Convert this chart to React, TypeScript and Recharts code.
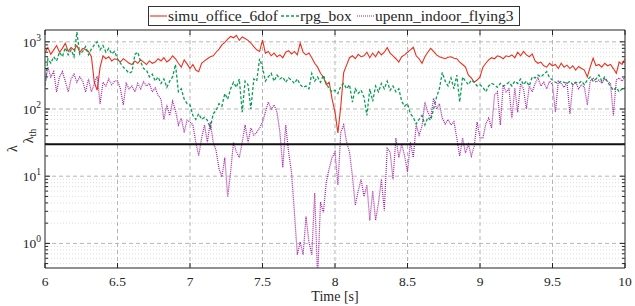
import React from 'react';
import { LineChart, Line, XAxis, YAxis, ReferenceLine, ReferenceArea } from 'recharts';

// ---- data ----
const TIME_START = 6;
const TIME_STEP = 0.02;

const SIMU_OFFICE_6DOF = [
  700, 820, 650, 760, 880, 700, 800, 950, 720, 820,
  760, 880, 700, 800, 760, 720, 600, 250, 190, 420,
  620, 560, 600, 520, 560, 540, 500, 560, 520, 480,
  460, 520, 480, 540, 500, 460, 520, 480, 500, 560,
  520, 580, 500, 540, 620, 560, 480, 420, 540, 470,
  400, 460, 380, 360, 480, 520, 560, 600, 620, 700,
  780, 900, 980, 1100, 1200, 1150, 1250, 1050, 1180, 1120,
  1050, 960, 850, 760, 720, 1060, 680, 720, 620, 680,
  600, 640, 580, 700, 740, 660, 720, 640, 960, 700,
  640, 680, 580, 480, 420, 340, 300, 230, 250, 140,
  90, 44, 110, 350, 450, 580, 620, 560, 650, 600,
  620, 700, 580, 680, 600, 720, 640, 700, 820, 680,
  620, 560, 500, 600, 640, 700, 760, 830, 620, 560,
  480, 600, 700, 800, 720, 640, 600, 580, 560, 590,
  600, 570, 560, 500, 460, 420, 320, 290, 250, 270,
  300, 420, 480, 540, 580, 560, 620, 600, 560, 620,
  600, 640, 580, 700, 620, 720, 640, 600, 660, 520,
  480, 500, 440, 420, 480, 440, 460, 400, 480, 420,
  450, 400, 440, 380, 430, 400, 380, 300, 420, 570,
  440, 460, 420, 480, 440, 460, 400, 340, 500, 460,
  560,
];

const RPG_BOX = [
  220, 560, 480, 600, 520, 700, 600, 820, 640, 760,
  600, 1400, 650, 720, 850, 640, 780, 900, 1000, 760,
  880, 700, 800, 660, 720, 560, 480, 420, 380, 340,
  360, 650, 700, 500, 400, 380, 300, 330, 260, 300,
  240, 280, 210, 260, 300, 460, 180, 200, 140, 120,
  115, 80, 70, 85, 70, 75, 68, 52, 85, 95,
  120, 110, 170, 140, 200, 250, 210, 280, 90, 260,
  230, 100, 280, 260, 560, 420, 260, 300, 340, 260,
  320, 280, 300, 250, 290, 270, 240, 280, 230, 210,
  220, 200, 340, 260, 300, 250, 320, 240, 200, 180,
  190, 170, 220, 240, 200, 230, 127, 200, 170, 190,
  150, 80, 200, 130, 220, 180, 240, 200, 260, 190,
  220, 180, 200, 130, 110, 120, 85, 75, 60, 70,
  80, 58, 75, 68, 100, 150, 200, 350, 260, 220,
  290, 200, 320, 127, 300, 260, 230, 270, 250, 220,
  230, 210, 180, 220, 240, 230, 210, 240, 220, 230,
  250, 220, 260, 240, 280, 230, 260, 220, 300, 290,
  320, 300, 330, 360, 290, 270, 250, 240, 260, 250,
  240, 260, 230, 250, 240, 260, 230, 270, 300, 260,
  280, 320, 260, 300, 250, 220, 190, 210, 180, 200,
  210,
];

const UPENN_INDOOR_FLYING3 = [
  226, 420, 300, 360, 180, 300, 360, 260, 180, 280,
  330, 250, 300, 260, 180, 280, 180, 240, 310, 120,
  250, 220, 280, 230, 260, 265, 200, 115, 240, 200,
  220, 180, 240, 200, 255, 220, 240, 180, 205, 160,
  140, 70, 115, 80, 130, 95, 58, 73, 45, 68,
  64, 58, 32, 20, 37, 58, 32, 64, 32, 24,
  13, 9.8, 19, 4.9, 11.5, 32, 23, 19, 32, 58,
  32, 52, 41, 45, 52, 64, 90, 127, 100, 115,
  90, 45, 13.5, 58, 23, 11.5, 2.9, 0.68, 1.05, 0.68,
  2.5, 1.05, 0.68, 5.6, 0.3, 4.1, 2.9, 8.2, 13, 19,
  23, 7.4, 45, 58, 32, 23, 10, 3.7, 6, 9,
  5, 7.4, 2.2, 6, 2.2, 4, 9, 3.1, 26, 23,
  9, 37, 19, 30, 20, 11.5, 32, 19, 58, 41,
  55, 127, 90, 73, 145, 100, 120, 73, 60, 70,
  58, 65, 37, 20, 37, 22, 30, 20, 28, 64,
  37, 37, 60, 73, 52, 160, 180, 58, 225, 180,
  200, 73, 205, 90, 240, 200, 100, 220, 180, 240,
  290, 220, 250, 200, 260, 230, 90, 260, 240, 210,
  250, 85, 230, 250, 200, 230, 210, 115, 260, 290,
  250, 270, 240, 280, 260, 240, 80, 270, 290, 260,
  300,
];

const X_TICKS = [6, 6.5, 7, 7.5, 8, 8.5, 9, 9.5, 10];
const Y_MAJOR = [1, 10, 100, 1000];
const Y_MINOR = [
  0.5, 0.6, 0.7, 0.8, 0.9,
  2, 3, 4, 5, 6, 7, 8, 9,
  20, 30, 40, 50, 60, 70, 80, 90,
  200, 300, 400, 500, 600, 700, 800, 900,
];
const LAMBDA_TH = 30;
const X_DOMAIN = [6, 10];
const Y_DOMAIN = [0.43, 1500];

const SERIES = [
  { key: 'simu', name: 'simu_office_6dof', color: '#e8321f', dash: undefined, width: 1.1 },
  { key: 'rpg', name: 'rpg_box', color: '#0a9e55', dash: '3 2', width: 1.3 },
  { key: 'upenn', name: 'upenn_indoor_flying3', color: '#a321a3', dash: '1 1', width: 1.2 },
];

const TIME = SIMU_OFFICE_6DOF.map((_, i) => +(TIME_START + i * TIME_STEP).toFixed(2));
const rows = TIME.map((t, i) => ({
  t,
  simu: SIMU_OFFICE_6DOF[i],
  rpg: RPG_BOX[i],
  upenn: UPENN_INDOOR_FLYING3[i],
}));

// ---- layout ----
const W = 635;
const H = 306;
const PL = 45;
const PR = 625;
const PT = 30;
const PB = 268;
const FONT = '"Liberation Serif", "DejaVu Serif", serif';
const TXT = '#262626';

const XTick = (props: any) => {
  const { x, payload } = props;
  const v = payload.value;
  return (
    <g>
      <line x1={x} x2={x} y1={PB} y2={PB - 5} stroke="#222" strokeWidth={1} />
      <line x1={x} x2={x} y1={PT} y2={PT + 5} stroke="#222" strokeWidth={1} />
      <text x={x} y={PB + 18} textAnchor="middle" fontFamily={FONT} fontSize={13.5} fill={TXT}>
        {String(v)}
      </text>
    </g>
  );
};

const YTick = (props: any) => {
  const { y, payload } = props;
  const v = payload.value;
  const major = Y_MAJOR.includes(v);
  const len = major ? 5 : 3;
  const exp = Math.round(Math.log10(v));
  return (
    <g>
      <line x1={PL} x2={PL + len} y1={y} y2={y} stroke="#222" strokeWidth={1} />
      <line x1={PR} x2={PR - len} y1={y} y2={y} stroke="#222" strokeWidth={1} />
      {major && (
        <text x={PL - 4} y={y + 5} textAnchor="end" fontFamily={FONT} fontSize={13.5} fill={TXT}>
          10
          <tspan dy={-6} fontSize={9.5}>{String(exp)}</tspan>
        </text>
      )}
    </g>
  );
};

const LegendOverlay = () => {
  const items = [
    { s: SERIES[0], lx1: 150, lx2: 167, tx: 168 },
    { s: SERIES[1], lx1: 281, lx2: 299, tx: 300 },
    { s: SERIES[2], lx1: 357, lx2: 374, tx: 375 },
  ];
  return (
    <svg width={W} height={H} style={{ position: 'absolute', left: 0, top: 0, pointerEvents: 'none' }}>
      <rect x={148.5} y={6.5} width={371} height={19} fill="#fff" stroke="#333" strokeWidth={1} />
      {items.map((it) => (
        <g key={it.s.key}>
          <line
            x1={it.lx1}
            x2={it.lx2}
            y1={16}
            y2={16}
            stroke={it.s.color}
            strokeWidth={it.s.width}
            strokeDasharray={it.s.dash}
          />
          <text x={it.tx} y={21} fontFamily={FONT} fontSize={15.5} fill={TXT}>
            {it.s.name}
          </text>
        </g>
      ))}
      <text x={335} y={301} textAnchor="middle" fontFamily={FONT} fontSize={14} fill={TXT}>
        Time [s]
      </text>
      <text transform="translate(17,152) rotate(-90)" fontFamily={FONT} fontSize={14} fill={TXT}>
        <tspan>λ</tspan>
        <tspan dx={2} dy={16}>λ</tspan>
        <tspan dy={3} fontSize={10}>th</tspan>
      </text>
    </svg>
  );
};

export default function App() {
  return (
    <div style={{ position: 'absolute', left: 0, top: 0, width: W, height: H, background: '#fff' }}>
      <LineChart width={W} height={H} data={rows} margin={{ top: PT, right: W - PR, left: 0, bottom: 0 }}>
        <XAxis
          dataKey="t"
          type="number"
          domain={X_DOMAIN}
          ticks={X_TICKS}
          interval={0}
          allowDataOverflow
          height={H - PB}
          tick={<XTick />}
          tickLine={false}
          axisLine={false}
        />
        <YAxis
          type="number"
          scale="log"
          domain={Y_DOMAIN}
          ticks={[...Y_MINOR, ...Y_MAJOR].sort((a, b) => a - b)}
          interval={0}
          allowDataOverflow
          width={PL}
          tick={<YTick />}
          tickLine={false}
          axisLine={false}
        />
        {Y_MINOR.map((v) => (
          <ReferenceLine key={'ym' + v} y={v} stroke="#dedede" strokeDasharray="1 2" strokeWidth={1} />
        ))}
        {Y_MAJOR.map((v) => (
          <ReferenceLine key={'yM' + v} y={v} stroke="#b5b5b5" strokeDasharray="4 3" strokeWidth={1} />
        ))}
        {X_TICKS.slice(1, -1).map((v) => (
          <ReferenceLine key={'x' + v} x={v} stroke="#b5b5b5" strokeDasharray="4 3" strokeWidth={1} />
        ))}
        {SERIES.map((s) => (
          <Line
            key={s.key}
            dataKey={s.key}
            name={s.name}
            type="linear"
            stroke={s.color}
            strokeWidth={s.width}
            strokeDasharray={s.dash}
            dot={false}
            activeDot={false}
            isAnimationActive={false}
          />
        ))}
        <ReferenceLine y={LAMBDA_TH} stroke="#111" strokeWidth={2} />
        <ReferenceArea
          x1={X_DOMAIN[0]}
          x2={X_DOMAIN[1]}
          y1={Y_DOMAIN[0]}
          y2={Y_DOMAIN[1]}
          fill="none"
          fillOpacity={0}
          stroke="#222"
          strokeWidth={1}
        />
      </LineChart>
      <LegendOverlay />
    </div>
  );
}
